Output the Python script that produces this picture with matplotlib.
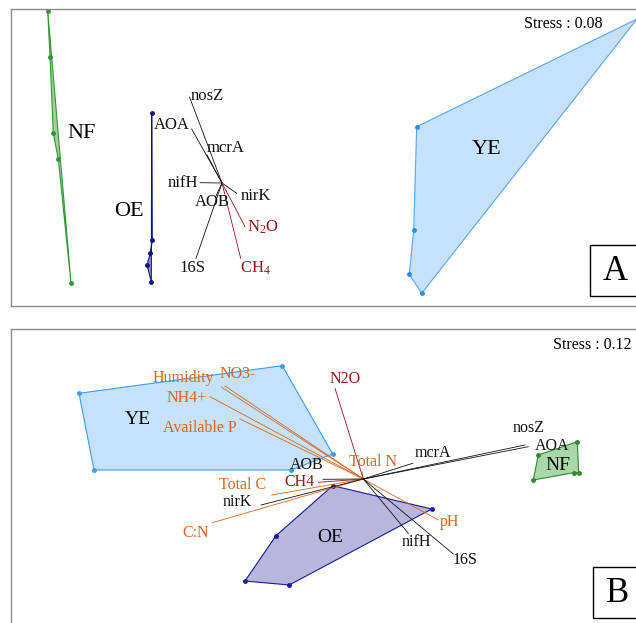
import matplotlib.pyplot as plt
from matplotlib.patches import Polygon, Rectangle

plt.rcParams['font.family'] = ['Liberation Serif', 'DejaVu Serif']
plt.rcParams['mathtext.fontset'] = 'custom'
plt.rcParams['mathtext.rm'] = 'Liberation Serif'

# ---- panel A (ordination scores, chart units, y grows downwards) ----
a_nf_x = [47.7, 50, 53.3, 58.3, 71]
a_nf_y = [10.7, 56.7, 133.3, 159.3, 283]
a_oe_x = [151.7, 152.3, 150.3, 147, 151.3]
a_oe_y = [113.3, 240, 253.3, 265, 281.7]
a_ye_x = [416.7, 637, 421.7, 409.3, 413.7]
a_ye_y = [126.7, 19, 293.3, 274.3, 230]

a_origin = (222, 183)
a_vec_names = ["nosZ", "AOA", "mcrA", "nifH", "nirK", "AOB", "16S", "N$\\mathregular{_2}$O", "CH$\\mathregular{_4}$"]
a_vec_x = [189.5, 191.7, 207, 200, 236.7, 216, 196, 245, 240.7]
a_vec_y = [97, 129, 155, 182.7, 193.3, 196, 258.3, 226.7, 258.3]
a_lab_x = [191, 190, 207, 198, 241, 212, 192.7, 247, 255]
a_lab_y = [96, 125, 148, 182.7, 196, 202, 268.3, 227.3, 268.3]
a_lab_ha = ["left", "right", "left", "right", "left", "center", "center", "left", "center"]
a_vec_kind = ["gene"] * 7 + ["gas", "gas"]

# ---- panel B ----
b_ye_x = [79, 282.3, 332.7, 291, 94]
b_ye_y = [393.3, 365.7, 454, 470, 470]
b_oe_x = [332.7, 431.7, 289.3, 245, 276]
b_oe_y = [485.7, 509, 585, 581, 535.7]
b_nf_x = [538.3, 577.3, 578.7, 574, 533.3]
b_nf_y = [455, 441.7, 472.7, 472.7, 480]

b_origin = (363.3, 479)
b_vec_names = ["Humidity", "NO3-", "NH4+", "Available P", "Total C", "C:N", "Total N", "pH",
               "nirK", "AOB", "CH4", "N2O", "mcrA", "nosZ", "AOA", "nifH", "16S"]
b_vec_x = [221.7, 225, 210, 240, 271.7, 212.3, 362, 438.3,
           261, 323, 318.3, 335, 412.7, 525, 528.3, 408.3, 453.3]
b_vec_y = [387.3, 386, 396.7, 419, 495, 522.7, 472, 520,
           505, 479.3, 482.3, 388.3, 463.3, 445, 446.7, 533.3, 554]
b_lab_x = [183.3, 238, 186.7, 200, 242.7, 196, 373.3, 450,
           237.3, 306.7, 300, 345, 432.7, 528.3, 551.7, 416.7, 465]
b_lab_y = [377.7, 374, 398.3, 428.3, 485, 533.3, 461.7, 521.7,
           501.7, 465, 481.5, 379, 453.3, 428.3, 445.7, 541.7, 560]
b_vec_kind = ["env"] * 8 + ["gene", "gene", "gas", "gas", "gene", "gene", "gene", "gene", "gene"]

colors = {"gene": "#111111", "gas": "#8b1a1a", "env": "#d9661f"}
frame_col = "#8a8a8a"

fig = plt.figure(figsize=(6.36, 6.23), dpi=100)
W, H = 636, 623


def make_ax(x0, x1, y0, y1):
    ax = fig.add_axes([x0 / W, 1 - y1 / H, (x1 - x0) / W, (y1 - y0) / H])
    ax.set_xlim(x0, x1)
    ax.set_ylim(y1, y0)
    ax.set_xticks([])
    ax.set_yticks([])
    for s in ax.spines.values():
        s.set_color(frame_col)
        s.set_linewidth(1.0)
    return ax


def hull(ax, xs, ys, edge, face):
    ax.add_patch(Polygon(list(zip(xs, ys)), closed=True, facecolor=face,
                         edgecolor=edge, linewidth=0.8, zorder=1))
    ax.plot(xs, ys, 'o', color=edge, markersize=2.5, zorder=2)


def panel_box(ax, x0, y0, letter):
    ax.add_patch(Rectangle((x0, y0), 52, 51, facecolor='white', edgecolor='black',
                           linewidth=1.0, zorder=5, clip_on=False))
    ax.text(x0 + 25, y0 + 27, letter, fontsize=25, ha='center', va='center', zorder=6)


# ---- A ----
axA = make_ax(11, 642, 9, 306)
hull(axA, a_nf_x, a_nf_y, '#2e9a2e', '#9fd09f')
hull(axA, a_oe_x, a_oe_y, '#12128f', '#9a9ad8')
axA.add_patch(Polygon(list(zip(a_ye_x, a_ye_y)), closed=True, facecolor='#c6e2fb',
                      edgecolor='#55a6f5', linewidth=0.8, zorder=1))
axA.plot(a_ye_x[:1] + a_ye_x[2:], a_ye_y[:1] + a_ye_y[2:], 'o', color='#2a8cf0',
         markersize=2.5, zorder=2)
axA.text(82, 133, "NF", fontsize=16, ha='center', va='center')
axA.text(129, 211, "OE", fontsize=16, ha='center', va='center')
axA.text(487, 149, "YE", fontsize=16, ha='center', va='center')
for name, x, y, lx, ly, ha, kind in zip(a_vec_names, a_vec_x, a_vec_y, a_lab_x, a_lab_y,
                                       a_lab_ha, a_vec_kind):
    axA.plot([a_origin[0], x], [a_origin[1], y], color=colors[kind], linewidth=0.6, zorder=3)
    axA.text(lx, ly, name, fontsize=12, ha=ha, va='center', color=colors[kind], zorder=4)
axA.text(563, 24, "Stress : 0.08", fontsize=11.5, ha='center', va='center')
panel_box(axA, 590, 245, "A")

# ---- B ----
axB = make_ax(11, 642, 329, 628)
hull(axB, b_ye_x, b_ye_y, '#3d9bf5', '#c6e2fb')
hull(axB, b_oe_x, b_oe_y, '#1a1a9a', '#b7b7dd')
hull(axB, b_nf_x, b_nf_y, '#2e8b2e', '#a9d7a9')
axB.text(138, 420, "YE", fontsize=14, ha='center', va='center')
axB.text(330, 537, "OE", fontsize=14, ha='center', va='center')
axB.text(558, 465, "NF", fontsize=14, ha='center', va='center')
for name, x, y, lx, ly, kind in zip(b_vec_names, b_vec_x, b_vec_y, b_lab_x, b_lab_y, b_vec_kind):
    axB.plot([b_origin[0], x], [b_origin[1], y], color=colors[kind], linewidth=0.6, zorder=3)
    axB.text(lx, ly, name, fontsize=11.5, ha='center', va='center', color=colors[kind], zorder=4)
axB.text(592, 345, "Stress : 0.12", fontsize=11.5, ha='center', va='center')
panel_box(axB, 593, 567, "B")

fig.savefig("out.png", dpi=100)
